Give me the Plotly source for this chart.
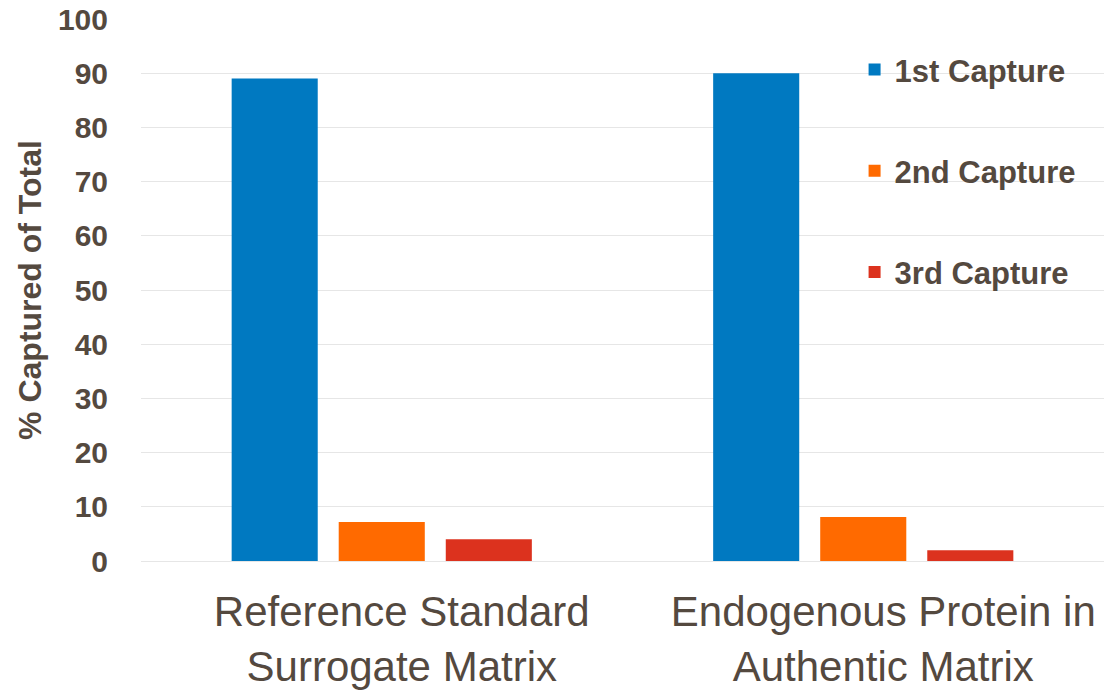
import plotly.graph_objects as go

categories = ["Reference Standard<br>Surrogate Matrix", "Endogenous Protein in<br>Authentic Matrix"]
series_names = ["1st Capture", "2nd Capture", "3rd Capture"]
first_capture = [89, 90]
second_capture = [7.2, 8.1]
third_capture = [4.0, 2.0]
y_ticks = [0, 10, 20, 30, 40, 50, 60, 70, 80, 90, 100]

colors = ["#0079C1", "#FF6A00", "#DC321E"]
text_color = "#54493F"
font_family = "Liberation Sans, Arial, sans-serif"

fig = go.Figure()
for name, vals, col in zip(series_names, [first_capture, second_capture, third_capture], colors):
    fig.add_trace(go.Bar(x=categories, y=vals, name=name, marker_color=col,
                         marker_line_width=0, legendgroup=name))

fig.update_layout(
    width=1117, height=691,
    margin=dict(l=141, r=13, t=19, b=130),
    paper_bgcolor="white", plot_bgcolor="white",
    barmode="group", bargap=0.333, bargroupgap=0.196,
    font=dict(family=font_family, color=text_color),
    legend=dict(x=0.741, y=0.956, xanchor="left", yanchor="top",
                font=dict(size=31, color=text_color, family=font_family, weight="bold"),
                tracegroupgap=58, bgcolor="rgba(0,0,0,0)"),
    showlegend=True,
)
fig.update_yaxes(range=[0, 100], tickvals=y_ticks, showgrid=True, gridcolor="#E6E6E6", gridwidth=1,
                 zeroline=True, zerolinecolor="#E6E6E6", zerolinewidth=1, showline=False,
                 automargin=False,
                 ticks="outside", ticklen=26, tickcolor="rgba(0,0,0,0)",
                 tickfont=dict(size=30, color=text_color, family=font_family, weight="bold"),
                 title=dict(text="% Captured of Total", standoff=6,
                            font=dict(size=32, color=text_color, family=font_family, weight="bold")))
fig.update_xaxes(showline=False, showgrid=False, automargin=False,
                 ticks="outside", ticklen=14, tickcolor="rgba(0,0,0,0)", ticklabelshift=20,
                 tickfont=dict(size=42, color=text_color, family=font_family))

fig.write_html("out.html")
